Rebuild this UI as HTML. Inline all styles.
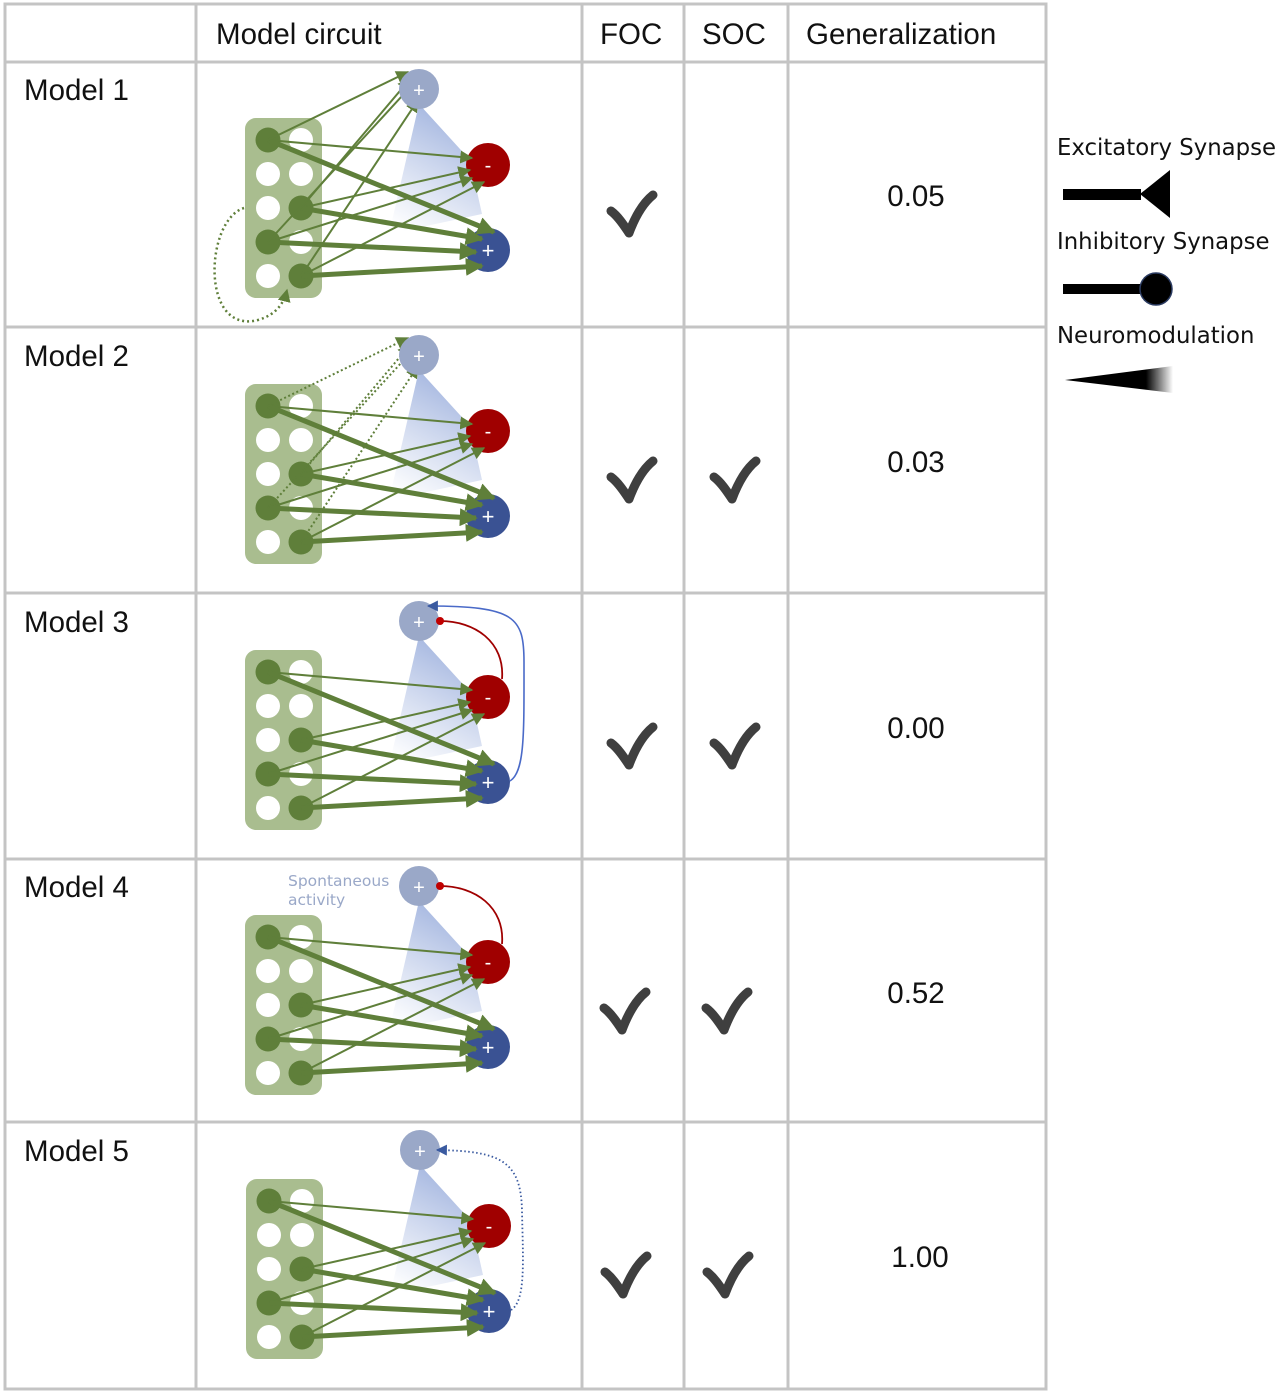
<!DOCTYPE html>
<html><head><meta charset="utf-8"><style>
html,body{margin:0;padding:0;background:#fff}
svg{display:block}
.t{font-family:"Liberation Sans",sans-serif;font-size:29.5px;fill:#111}
.l{font-family:"DejaVu Sans",sans-serif;font-size:22.8px;fill:#111}
</style></head><body>
<svg id="s" width="1280" height="1394" viewBox="0 0 1280 1394" xmlns="http://www.w3.org/2000/svg">
<defs>
<marker id="ag" viewBox="0 0 10 10" refX="9" refY="5" markerWidth="6" markerHeight="6" markerUnits="userSpaceOnUse" orient="auto"><path d="M0,0 L10,5 L0,10z" fill="#5f7f3a"/></marker>
<marker id="agb" viewBox="0 0 10 10" refX="9" refY="5" markerWidth="18" markerHeight="18" markerUnits="userSpaceOnUse" orient="auto"><path d="M0,0 L10,5 L0,10z" fill="#5f7f3a"/></marker>
<marker id="agt" viewBox="0 0 10 10" refX="9" refY="5" markerWidth="13" markerHeight="13" markerUnits="userSpaceOnUse" orient="auto"><path d="M0,0 L10,5 L0,10z" fill="#5f7f3a"/></marker>
<marker id="ab" viewBox="0 0 10 10" refX="9" refY="5" markerWidth="11" markerHeight="11" markerUnits="userSpaceOnUse" orient="auto"><path d="M0,0 L10,5 L0,10z" fill="#3a5aa0"/></marker>
<linearGradient id="cone" x1="0.6" y1="0" x2="0.2" y2="1"><stop offset="0" stop-color="#9fb2de"/><stop offset="1" stop-color="#fff" stop-opacity="0.9"/></linearGradient>
<linearGradient id="nm" x1="0" y1="0" x2="1" y2="0"><stop offset="0.75" stop-color="#000"/><stop offset="1" stop-color="#000" stop-opacity="0"/></linearGradient>
</defs>
<g id="grid" stroke="#c4c4c4" stroke-width="3" fill="none">
<rect x="5" y="4" width="1041" height="1385"/>
<line x1="196" y1="4" x2="196" y2="1389"/><line x1="582" y1="4" x2="582" y2="1389"/>
<line x1="684" y1="4" x2="684" y2="1389"/><line x1="788" y1="4" x2="788" y2="1389"/>
<line x1="5" y1="62" x2="1046" y2="62"/><line x1="5" y1="327" x2="1046" y2="327"/>
<line x1="5" y1="593" x2="1046" y2="593"/><line x1="5" y1="859" x2="1046" y2="859"/>
<line x1="5" y1="1122" x2="1046" y2="1122"/>
</g>
<text class="t" x="216" y="44">Model circuit</text>
<text class="t" x="600" y="44">FOC</text>
<text class="t" x="702" y="44">SOC</text>
<text class="t" x="806" y="44">Generalization</text>
<text class="l" x="1057" y="155">Excitatory Synapse</text>
<rect x="1063" y="189" width="78" height="11" fill="#000"/>
<path d="M1140,194 L1170,170 L1170,218z" fill="#000"/>
<text class="l" x="1057" y="249">Inhibitory Synapse</text>
<rect x="1063" y="284" width="84" height="10" fill="#000"/>
<circle cx="1156" cy="289" r="16" fill="#000" stroke="#2a3a60" stroke-width="1.5"/>
<text class="l" x="1057" y="343">Neuromodulation</text>
<path d="M1065,380 L1173,366 L1173,393z" fill="url(#nm)"/>
<g id="models"></g>
</svg>
<script>
var G=document.getElementById('models');var h='';
var offs=[0,266,532,797,1061];var vals=['0.05','0.03','0.00','0.52','1.00'];
var vx=[916,916,916,916,920];
function chk(x,y){return '<path d="M'+x+','+(y+16)+' C'+(x+8)+','+(y+22)+' '+(x+14)+','+(y+32)+' '+(x+18)+','+(y+38)+' C'+(x+24)+','+(y+22)+' '+(x+32)+','+(y+8)+' '+(x+42)+','+y+'" fill="none" stroke="#3f3f3f" stroke-width="9" stroke-linecap="round" stroke-linejoin="round"/>';}
var G1='#5f7f3a';
offs.forEach(function(o,i){
 var dx=(i==4)?1:0;
 h+='<g transform="translate('+dx+','+o+')">';
 h+='<text class="t" x="'+(24-dx)+'" y="100">Model '+(i+1)+'</text>';
 h+='<text class="t" x="'+(vx[i]-dx)+'" y="206" text-anchor="middle">'+vals[i]+'</text>';
 var cx=(i>=3)?604:611;
 h+=chk(cx,195);
 if(i>0)h+=chk((i>=3)?706:714,195);
 h+='<polygon points="419,104 470,160 482,214 389,234" fill="url(#cone)"/>';
 h+='<rect x="245" y="118" width="77" height="180" rx="11" fill="#a9bd8f"/>';
 var F=[[268,140],[301,208],[268,242],[301,276]];
 var W=[[301,140],[268,174],[301,174],[268,208],[301,242],[268,276]];
 W.forEach(function(p){h+='<circle cx="'+p[0]+'" cy="'+p[1]+'" r="12" fill="#fff"/>';});
 F.forEach(function(p){h+='<circle cx="'+p[0]+'" cy="'+p[1]+'" r="12.5" fill="#5f7f3a"/>';});
 h+='<circle cx="488" cy="165" r="22" fill="#a00000"/><text x="488" y="172" fill="#fff" font-family="Liberation Sans" font-size="20" text-anchor="middle">-</text>';
 h+='<circle cx="488" cy="250" r="22" fill="#3a5293"/><text x="488" y="258" fill="#fff" font-family="Liberation Sans" font-size="22" text-anchor="middle">+</text>';
 var red=[[472,158],[470,170],[472,178],[484,182]];
 var blue=[[494,232],[482,239],[476,252],[482,266]];
 var top=[[408,72],[410,79],[413,84],[418,100]];
 F.forEach(function(p,k){
  h+='<line x1="'+p[0]+'" y1="'+p[1]+'" x2="'+red[k][0]+'" y2="'+red[k][1]+'" stroke="'+G1+'" stroke-width="2" marker-end="url(#agt)"/>';
  h+='<line x1="'+p[0]+'" y1="'+p[1]+'" x2="'+blue[k][0]+'" y2="'+blue[k][1]+'" stroke="'+G1+'" stroke-width="5" marker-end="url(#agb)"/>';
  if(i<2)h+='<line x1="'+p[0]+'" y1="'+p[1]+'" x2="'+top[k][0]+'" y2="'+top[k][1]+'" stroke="'+G1+'" stroke-width="2"'+(i==1?' stroke-dasharray="2,2.5"':'')+' marker-end="url(#agt)"/>';
 });
 if(i==0)h+='<path d="M244,208 C205,220 200,335 258,320 C278,314 284,302 287,290" fill="none" stroke="'+G1+'" stroke-width="2.5" stroke-dasharray="2,3" marker-end="url(#agt)"/>';
 h+='<circle cx="419" cy="89" r="20" fill="#9aa8c8"/><text x="419" y="97" fill="#fff" font-family="Liberation Sans" font-size="20" text-anchor="middle">+</text>';
 if(i==2||i==3){h+='<path d="M502,147 C505,110 475,89 440,89" fill="none" stroke="#a00000" stroke-width="1.8"/><circle cx="440" cy="89" r="4" fill="#c00000"/>';}
 if(i==2)h+='<path d="M510,249 C525,240 524,200 524,130 C524,85 515,74 428,74" fill="none" stroke="#4a6ac8" stroke-width="1.6" marker-end="url(#ab)"/>';
 if(i==4)h+='<path d="M510,249 C525,240 522,200 521,150 C520,100 500,90 436,89" fill="none" stroke="#3a5aa0" stroke-width="1.8" stroke-dasharray="1.5,2.5" marker-end="url(#ab)"/>';
 if(i==3)h+='<text x="288" y="89" fill="#9aa8c8" font-family="DejaVu Sans" font-size="15.5">Spontaneous</text><text x="288" y="108" fill="#9aa8c8" font-family="DejaVu Sans" font-size="15.5">activity</text>';
 h+='</g>';
});
G.innerHTML=h;
</script>
</body></html>
